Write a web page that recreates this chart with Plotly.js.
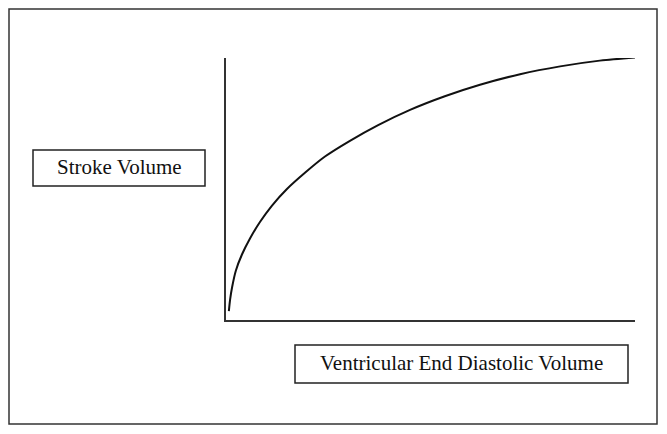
<!DOCTYPE html>
<html>
<head>
<meta charset="utf-8">
<script src="https://cdn.plot.ly/plotly-3.0.1.min.js"></script>
<style>html,body{margin:0;padding:0;background:#fff;}#chart{width:667px;height:434px;}</style>
</head>
<body>
<div id="chart"></div>
<script>
// Frank-Starling curve (arbitrary units 0-100)
const edvValues = [0.7, 1.0, 1.5, 2.4, 3.9, 5.9, 8.3, 11.2, 14.9, 19.3, 24.2, 30.3, 37.2, 45.0, 53.5, 62.1, 71.9, 81.7, 91.4, 100];
const svValues  = [3.4, 7.8, 12.6, 18.8, 25.0, 31.2, 37.4, 43.6, 50.0, 56.2, 62.4, 68.4, 74.4, 80.2, 85.4, 89.8, 93.8, 96.8, 99.0, 100.2];
const yLabel = "Stroke Volume";
const xLabel = "Ventricular End Diastolic Volume";

const W = 667, H = 434;
const M = {l: 226, r: 32, t: 58, b: 114};
const pw = W - M.l - M.r, ph = H - M.t - M.b;
const px = x => (x - M.l) / pw;
const py = y => (H - M.b - y) / ph;

const font = {family: "Liberation Serif, Times New Roman, serif", size: 21, color: "#111"};

const trace = {
  x: edvValues, y: svValues, type: "scatter", mode: "lines",
  line: {color: "#111", width: 2, shape: "spline", smoothing: 0.8},
  cliponaxis: false, hoverinfo: "skip"
};

const layout = {
  width: W, height: H,
  margin: M,
  paper_bgcolor: "#fff", plot_bgcolor: "#fff",
  showlegend: false,
  xaxis: {range: [0, 100], showline: true, linecolor: "#333", linewidth: 2,
          showgrid: false, zeroline: false, showticklabels: false, ticks: ""},
  yaxis: {range: [0, 100], showline: true, linecolor: "#333", linewidth: 2,
          showgrid: false, zeroline: false, showticklabels: false, ticks: ""},
  shapes: [
    {type: "rect", xref: "paper", yref: "paper", x0: px(9), x1: px(657), y0: py(9), y1: py(424),
     line: {color: "#333", width: 1.5}},
    {type: "rect", xref: "paper", yref: "paper", x0: px(33), x1: px(205), y0: py(150), y1: py(186),
     line: {color: "#222", width: 1.5}},
    {type: "rect", xref: "paper", yref: "paper", x0: px(295), x1: px(628), y0: py(345), y1: py(383),
     line: {color: "#222", width: 1.5}}
  ],
  annotations: [
    {xref: "paper", yref: "paper", x: px(119), y: py(167), text: yLabel, showarrow: false,
     xanchor: "center", yanchor: "middle", font: font},
    {xref: "paper", yref: "paper", x: px(461.5), y: py(363), text: xLabel, showarrow: false,
     xanchor: "center", yanchor: "middle", font: font}
  ]
};

Plotly.newPlot("chart", [trace], layout, {staticPlot: true, displayModeBar: false});
</script>
</body>
</html>
